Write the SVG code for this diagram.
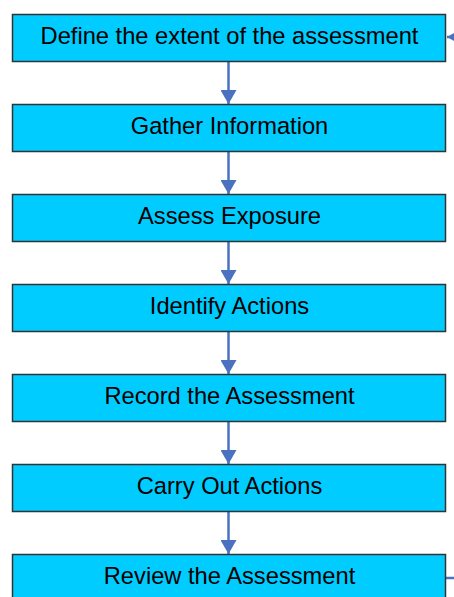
<svg xmlns="http://www.w3.org/2000/svg" width="454" height="597" viewBox="0 0 454 597">
<defs>
<style>
.box{fill:#00CCFF;stroke:#333333;stroke-width:1.5}
.lbl{font-family:"Liberation Sans",Arial,sans-serif;font-size:23.7px;fill:#000;text-anchor:middle}
.con{stroke:#4A72C0;stroke-width:2.5;fill:none}
</style>
<marker id="ah" viewBox="0 0 14 16" refX="14" refY="8" markerWidth="14" markerHeight="16" markerUnits="userSpaceOnUse" orient="auto">
<path d="M0,0 L14,8 L0,16 Z" fill="#4A72C0"/>
</marker>
</defs>
<rect width="454" height="597" fill="#FFFFFF"/>
<g id="connectors">
<line class="con" x1="228.5" y1="62" x2="228.5" y2="104" marker-end="url(#ah)"/>
<line class="con" x1="228.5" y1="152" x2="228.5" y2="194" marker-end="url(#ah)"/>
<line class="con" x1="228.5" y1="242" x2="228.5" y2="284" marker-end="url(#ah)"/>
<line class="con" x1="228.5" y1="332" x2="228.5" y2="374" marker-end="url(#ah)"/>
<line class="con" x1="228.5" y1="422" x2="228.5" y2="464" marker-end="url(#ah)"/>
<line class="con" x1="228.5" y1="512" x2="228.5" y2="554" marker-end="url(#ah)"/>
<polyline class="con" points="446,578 462,578 462,37 447,37" marker-end="url(#ah)"/>
</g>
<g id="n1"><rect class="box" x="12.5" y="14.5" width="433" height="47"/><text class="lbl" x="229.5" y="43.5">Define the extent of the assessment</text></g>
<g id="n2"><rect class="box" x="12.5" y="104.5" width="433" height="47"/><text class="lbl" x="229.5" y="133.5">Gather Information</text></g>
<g id="n3"><rect class="box" x="12.5" y="194.5" width="433" height="47"/><text class="lbl" x="229.5" y="223.5">Assess Exposure</text></g>
<g id="n4"><rect class="box" x="12.5" y="284.5" width="433" height="47"/><text class="lbl" x="229.5" y="313.5">Identify Actions</text></g>
<g id="n5"><rect class="box" x="12.5" y="374.5" width="433" height="47"/><text class="lbl" x="229.5" y="403.5">Record the Assessment</text></g>
<g id="n6"><rect class="box" x="12.5" y="464.5" width="433" height="47"/><text class="lbl" x="229.5" y="493.5">Carry Out Actions</text></g>
<g id="n7"><rect class="box" x="12.5" y="554.5" width="433" height="47"/><text class="lbl" x="229.5" y="583.5">Review the Assessment</text></g>
</svg>
